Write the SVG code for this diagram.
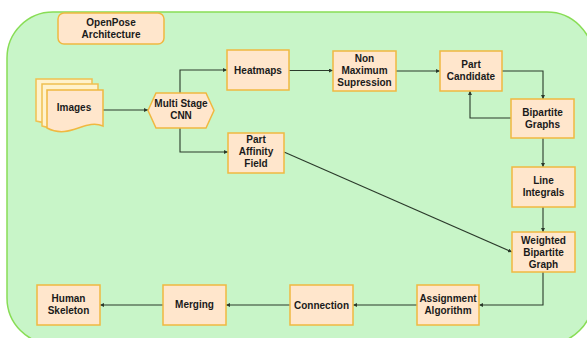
<svg xmlns="http://www.w3.org/2000/svg" width="587" height="338" viewBox="0 0 587 338">
<defs>
<style>
.n{fill:#ffe6cc;stroke:#f0b840;stroke-width:1.5}
.b{fill:#fff2cc;stroke:#f0c050;stroke-width:1.5}
.t{font-family:"Liberation Sans",Arial,sans-serif;font-weight:bold;font-size:10px;fill:#1a1a1a;text-anchor:middle}
.c{fill:none;stroke:#2b3a2b;stroke-width:1.1}
</style>
<marker id="a" viewBox="0 0 6 6" refX="6" refY="3" markerWidth="4" markerHeight="4" orient="auto" markerUnits="userSpaceOnUse">
<path d="M0,0 L6,3 L0,6 Z" fill="#2b3a2b"/>
</marker>
</defs>
<rect x="7" y="12" width="586" height="332" rx="46" fill="#c8f5c8" stroke="#88dd55" stroke-width="1.5"/>
<g id="title"><rect class="n" x="58" y="13" width="106" height="31" rx="6"/><text class="t" x="111" y="26">OpenPose</text><text class="t" x="111" y="38">Architecture</text></g>
<g id="connectors">
<path class="c" d="M103,110 H148" marker-end="url(#a)"/>
<path class="c" d="M180,93 V70 H227" marker-end="url(#a)"/>
<path class="c" d="M180,128 V152 H228" marker-end="url(#a)"/>
<path class="c" d="M289,70.5 H333" marker-end="url(#a)"/>
<path class="c" d="M396,71 H440" marker-end="url(#a)"/>
<path class="c" d="M502,71 H543 V99" marker-end="url(#a)"/>
<path class="c" d="M511,118 H470 V91" marker-end="url(#a)"/>
<path class="c" d="M543,138 V167" marker-end="url(#a)"/>
<path class="c" d="M543,207 V232" marker-end="url(#a)"/>
<path class="c" d="M284,152 L512,252" marker-end="url(#a)"/>
<path class="c" d="M543,272 V305 H479" marker-end="url(#a)"/>
<path class="c" d="M417,305 H353" marker-end="url(#a)"/>
<path class="c" d="M290,305 H226" marker-end="url(#a)"/>
<path class="c" d="M163,305 H100" marker-end="url(#a)"/>
</g>
<g id="images">
<path class="b" d="M36,79 H92 V113 C75,108 60,128 36,121 Z"/>
<path class="b" d="M42,84 H98 V119 C80,113 65,134 42,126 Z"/>
<path class="n" d="M47,90 H103 V126 C85,118 70,140 47,128 Z"/>
<text class="t" x="74" y="111">Images</text>
</g>
<g id="cnn"><path class="n" d="M148,110.5 L156,93 H206 L214,110.5 L206,128 H156 Z"/><text class="t" x="181" y="107">Multi Stage</text><text class="t" x="181" y="119">CNN</text></g>
<g id="heatmaps"><rect class="n" x="227" y="50" width="62" height="40"/><text class="t" x="258" y="74">Heatmaps</text></g>
<g id="paf"><rect class="n" x="228" y="133" width="56" height="40"/><text class="t" x="256" y="143">Part</text><text class="t" x="256" y="155">Affinity</text><text class="t" x="256" y="167">Field</text></g>
<g id="nms"><rect class="n" x="333" y="51" width="63" height="40"/><text class="t" x="364.5" y="62">Non</text><text class="t" x="364.5" y="74">Maximum</text><text class="t" x="364.5" y="86">Supression</text></g>
<g id="pc"><rect class="n" x="440" y="51" width="62" height="40"/><text class="t" x="471" y="68">Part</text><text class="t" x="471" y="80">Candidate</text></g>
<g id="bg"><rect class="n" x="511" y="99" width="63" height="39"/><text class="t" x="542.5" y="116">Bipartite</text><text class="t" x="542.5" y="128">Graphs</text></g>
<g id="li"><rect class="n" x="512" y="167" width="63" height="40"/><text class="t" x="543.5" y="184">Line</text><text class="t" x="543.5" y="196">Integrals</text></g>
<g id="wbg"><rect class="n" x="512" y="232" width="63" height="40"/><text class="t" x="543.5" y="244">Weighted</text><text class="t" x="543.5" y="256">Bipartite</text><text class="t" x="543.5" y="268">Graph</text></g>
<g id="assign"><rect class="n" x="417" y="285" width="62" height="40"/><text class="t" x="448" y="302">Assignment</text><text class="t" x="448" y="314">Algorithm</text></g>
<g id="connection"><rect class="n" x="290" y="285" width="63" height="40"/><text class="t" x="321.5" y="309">Connection</text></g>
<g id="merging"><rect class="n" x="163" y="285" width="63" height="40"/><text class="t" x="194.5" y="308">Merging</text></g>
<g id="skeleton"><rect class="n" x="37" y="285" width="63" height="40"/><text class="t" x="68.5" y="302">Human</text><text class="t" x="68.5" y="314">Skeleton</text></g>
</svg>
